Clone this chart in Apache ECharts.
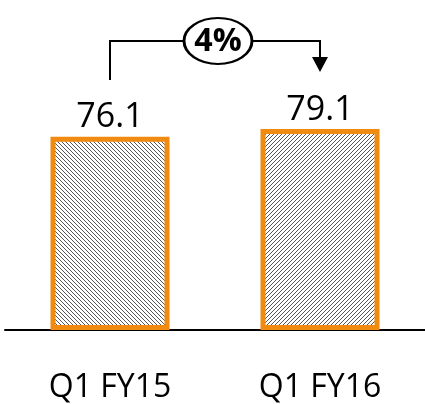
<!DOCTYPE html>
<html>
<head>
<meta charset="utf-8">
<script src="https://cdn.jsdelivr.net/npm/echarts@6/dist/echarts.min.js"></script>
<style>
  html, body { margin: 0; padding: 0; background: #fff; }
  #chart { width: 425px; height: 404px; }
</style>
</head>
<body>
<div id="chart"></div>
<script>
var categories = ['Q1 FY15', 'Q1 FY16'];
var values = [76.1, 79.1];
var changeLabel = '4%';

function hatch(back) {
  var c = document.createElement('canvas');
  c.width = 4; c.height = 4;
  var ctx = c.getContext('2d');
  ctx.fillStyle = '#fff';
  ctx.fillRect(0, 0, 4, 4);
  ctx.strokeStyle = '#555';
  ctx.lineWidth = 1;
  ctx.beginPath();
  if (back) {
    ctx.moveTo(-1, -1); ctx.lineTo(5, 5);
    ctx.moveTo(-1, 3); ctx.lineTo(1, 5);
    ctx.moveTo(3, -1); ctx.lineTo(5, 1);
  } else {
    ctx.moveTo(-1, 5); ctx.lineTo(5, -1);
    ctx.moveTo(-1, 1); ctx.lineTo(1, -1);
    ctx.moveTo(3, 5); ctx.lineTo(5, 3);
  }
  ctx.stroke();
  return { image: c, repeat: 'repeat' };
}

var chart = echarts.init(document.getElementById('chart'));
var font = 'Open Sans';

var option = {
  animation: false,
  grid: { left: 5, right: -4, top: 76, bottom: 73 },
  xAxis: {
    type: 'category',
    data: categories,
    axisLine: { lineStyle: { color: '#000', width: 2 } },
    axisTick: { show: false },
    axisLabel: { color: '#000', fontSize: 32, fontFamily: font, margin: 42 }
  },
  yAxis: { type: 'value', min: 0, max: 100, show: false },
  series: [{
    type: 'bar',
    barWidth: 119,
    data: values.map(function (v, i) {
      return {
        value: v,
        itemStyle: { color: hatch(i === 0) }
      };
    }),
    itemStyle: { borderColor: '#f08a10', borderWidth: 5 },
    label: {
      show: true,
      position: 'top',
      distance: 2,
      color: '#000',
      fontSize: 34,
      fontFamily: font
    }
  }]
};
chart.setOption(option);

// bracket with the growth bubble, anchored on the bar centres
var x1 = chart.convertToPixel({ xAxisIndex: 0 }, categories[0]);
var x2 = chart.convertToPixel({ xAxisIndex: 0 }, categories[1]);
var yTop = 41;
var cx = (x1 + x2) / 2 + 3;
var rx = 34, ry = 23;

chart.setOption({
  graphic: {
    elements: [
      { type: 'polyline', shape: { points: [[x1, 80], [x1, yTop], [cx - rx, yTop]] },
        style: { stroke: '#000', lineWidth: 2, fill: null } },
      { type: 'polyline', shape: { points: [[cx + rx, yTop], [x2, yTop], [x2, 58]] },
        style: { stroke: '#000', lineWidth: 2, fill: null } },
      { type: 'polygon', shape: { points: [[x2 - 8, 57], [x2 + 8, 57], [x2, 72]] },
        style: { fill: '#000' } },
      { type: 'ellipse', x: cx, y: yTop, scaleX: rx / ry, scaleY: 1,
        shape: { cx: 0, cy: 0, rx: ry, ry: ry },
        style: { stroke: '#000', lineWidth: 2, fill: '#fff', strokeNoScale: true } },
      { type: 'text', x: cx, y: yTop + 1, scaleX: 1.15, scaleY: 1.15,
        style: { text: changeLabel, fontSize: 28, fontWeight: 'bold', fontFamily: font,
          fill: '#000', align: 'center', verticalAlign: 'middle' } }
    ]
  }
});
</script>
</body>
</html>
